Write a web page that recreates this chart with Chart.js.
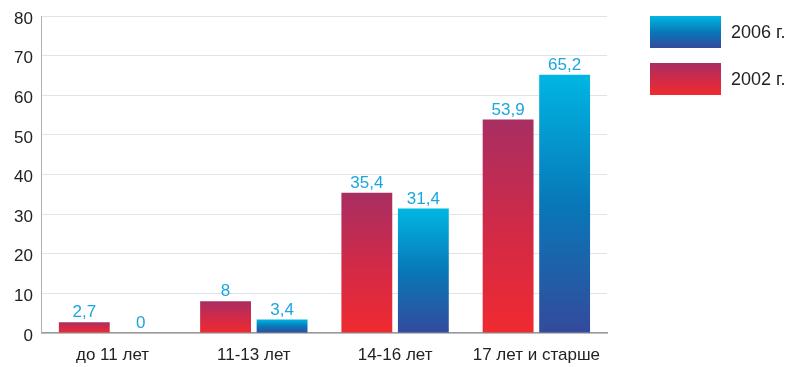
<!DOCTYPE html>
<html>
<head>
<meta charset="utf-8">
<script src="https://cdn.jsdelivr.net/npm/chart.js@4"></script>
<style>
  html, body { margin: 0; padding: 0; background: #fff; overflow: hidden; }
  canvas { display: block; }
</style>
</head>
<body>
<canvas id="chart" width="787" height="367"></canvas>
<script>
  const categories = ['до 11 лет', '11-13 лет', '14-16 лет', '17 лет и старше'];
  const values2002 = [2.7, 8, 35.4, 53.9];
  const values2006 = [0, 3.4, 31.4, 65.2];
  const seriesNames = ['2002 г.', '2006 г.'];
  const yTicks = [0, 10, 20, 30, 40, 50, 60, 70, 80];

  const FONT = '"Liberation Sans", Arial, sans-serif';

  // цветовые остановки градиентов (сверху вниз)
  const redStops = ['#a82e62', '#d02a48', '#f02a30'];
  const blueStops = ['#00b6e2', '#0878b8', '#344a9c'];

  function makeGradient(ctx, top, bottom, stops) {
    const g = ctx.createLinearGradient(0, top, 0, bottom);
    stops.forEach((c, i) => g.addColorStop(i / (stops.length - 1), c));
    return g;
  }

  function barFill(stops) {
    return function (context) {
      const chart = context.chart;
      if (!chart.chartArea || context.type !== 'data') return stops[0];
      const y = chart.scales.y;
      const top = y.getPixelForValue(context.raw);
      const bottom = y.getPixelForValue(0);
      if (bottom - top < 1) return stops[stops.length - 1];
      return makeGradient(chart.ctx, top, bottom, stops);
    };
  }

  // подписи значений над столбцами
  const valueLabels = {
    id: 'valueLabels',
    afterDatasetsDraw(chart) {
      const ctx = chart.ctx;
      ctx.save();
      ctx.font = '17px ' + FONT;
      ctx.fillStyle = '#1aa6de';
      ctx.textAlign = 'center';
      ctx.textBaseline = 'bottom';
      chart.data.datasets.forEach((ds, i) => {
        chart.getDatasetMeta(i).data.forEach((bar, j) => {
          const txt = String(ds.data[j]).replace('.', ',');
          ctx.fillText(txt, bar.x, bar.y - 1);
        });
      });
      ctx.restore();
    },
  };

  // легенда справа, 2006 сверху
  const sideLegend = {
    id: 'sideLegend',
    afterDraw(chart) {
      const ctx = chart.ctx;
      const items = [
        { text: seriesNames[1], stops: blueStops },
        { text: seriesNames[0], stops: redStops },
      ];
      ctx.save();
      ctx.font = '18px ' + FONT;
      ctx.textBaseline = 'middle';
      items.forEach((it, i) => {
        const x = 650, y = 16 + i * 47, w = 71, h = 32;
        ctx.fillStyle = makeGradient(ctx, y, y + h, it.stops);
        ctx.fillRect(x, y, w, h);
        ctx.fillStyle = '#222';
        ctx.fillText(it.text, x + w + 10, y + h / 2 + 1);
      });
      ctx.restore();
    },
  };

  new Chart(document.getElementById('chart'), {
    type: 'bar',
    data: {
      labels: categories,
      datasets: [
        { label: seriesNames[0], data: values2002, backgroundColor: barFill(redStops) },
        { label: seriesNames[1], data: values2006, backgroundColor: barFill(blueStops) },
      ],
    },
    options: {
      responsive: false,
      animation: false,
      layout: { padding: { top: 0, right: 180, left: 5, bottom: 0 } },
      plugins: {
        legend: { display: false },
        tooltip: { enabled: false },
      },
      scales: {
        x: {
          grid: { display: false, drawTicks: false },
          border: { color: '#9a9a9a', width: 1.5 },
          ticks: { color: '#222', font: { size: 17, family: FONT }, padding: 12 },
          afterFit(scale) { scale.height = 34; },
        },
        y: {
          min: 0,
          max: 80,
          afterBuildTicks(axis) { axis.ticks = yTicks.map((v) => ({ value: v })); },
          afterFit(scale) { scale.paddingTop = 16; },
          grid: { color: '#dde5ea', drawTicks: false },
          border: { color: '#b0b0b0' },
          ticks: { color: '#222', font: { size: 17, family: FONT }, padding: 9, labelOffset: 3 },
        },
      },
    },
    plugins: [valueLabels, sideLegend],
  });
</script>
</body>
</html>
